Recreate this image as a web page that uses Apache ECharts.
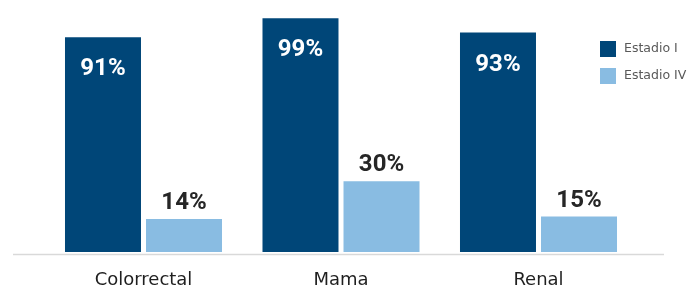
<!DOCTYPE html>
<html>
<head>
<meta charset="utf-8">
<script src="https://cdn.jsdelivr.net/npm/echarts@6/dist/echarts.min.js"></script>
<style>
  html, body { margin: 0; padding: 0; background: #fff; }
  #main { width: 687px; height: 289px; }
</style>
</head>
<body>
<div id="main"></div>
<script>
    var myChart = echarts.init(document.getElementById('main'));

    // data
    var cancers = ['Colorrectal', 'Mama', 'Renal'];
    var seriesNames = ['Estadio I', 'Estadio IV'];
    var estadioI = [91, 99, 93];
    var estadioIV = [14, 30, 15];

    var darkBlue = '#004678';
    var lightBlue = '#89bce2';

    option = {
        animation: false,
        backgroundColor: '#fff',
        legend: {
            orient: 'vertical',
            left: 595,
            top: 36,
            itemWidth: 16,
            itemHeight: 16,
            itemGap: 11,
            icon: 'rect',
            data: seriesNames,
            textStyle: {
                fontFamily: 'DejaVu Sans',
                fontSize: 12.5,
                color: '#595959',
                padding: [0, 0, 0, 3]
            }
        },
        grid: {
            left: 44.75,
            right: 49.75,
            top: 16,
            bottom: 35.5
        },
        xAxis: {
            type: 'category',
            data: cancers,
            axisLine: { show: false },
            axisTick: { show: false },
            axisLabel: {
                margin: 19,
                fontFamily: 'DejaVu Sans',
                fontSize: 18,
                color: '#1f1f1f'
            }
        },
        yAxis: {
            type: 'value',
            min: 0,
            max: 100,
            show: false
        },
        graphic: [{
            type: 'line',
            shape: { x1: 13, y1: 254.5, x2: 664, y2: 254.5 },
            style: { stroke: '#d9d9d9', lineWidth: 1.5 },
            z: 10
        }],
        series: [{
            name: seriesNames[0],
            type: 'bar',
            data: estadioI,
            barWidth: 76,
            barGap: '6.6%',
            itemStyle: { color: darkBlue },
            label: {
                show: true,
                position: ['50%', 32],
                align: 'center',
                verticalAlign: 'middle',
                formatter: '{c}%',
                fontFamily: 'Roboto',
                fontWeight: 'bold',
                fontSize: 24,
                color: '#ffffff'
            }
        }, {
            name: seriesNames[1],
            type: 'bar',
            data: estadioIV,
            barWidth: 76,
            itemStyle: { color: lightBlue },
            label: {
                show: true,
                position: ['50%', -16],
                align: 'center',
                verticalAlign: 'middle',
                formatter: '{c}%',
                fontFamily: 'Roboto',
                fontWeight: 'bold',
                fontSize: 24,
                color: '#262626'
            }
        }]
    };

    myChart.setOption(option);
</script>
</body>
</html>
